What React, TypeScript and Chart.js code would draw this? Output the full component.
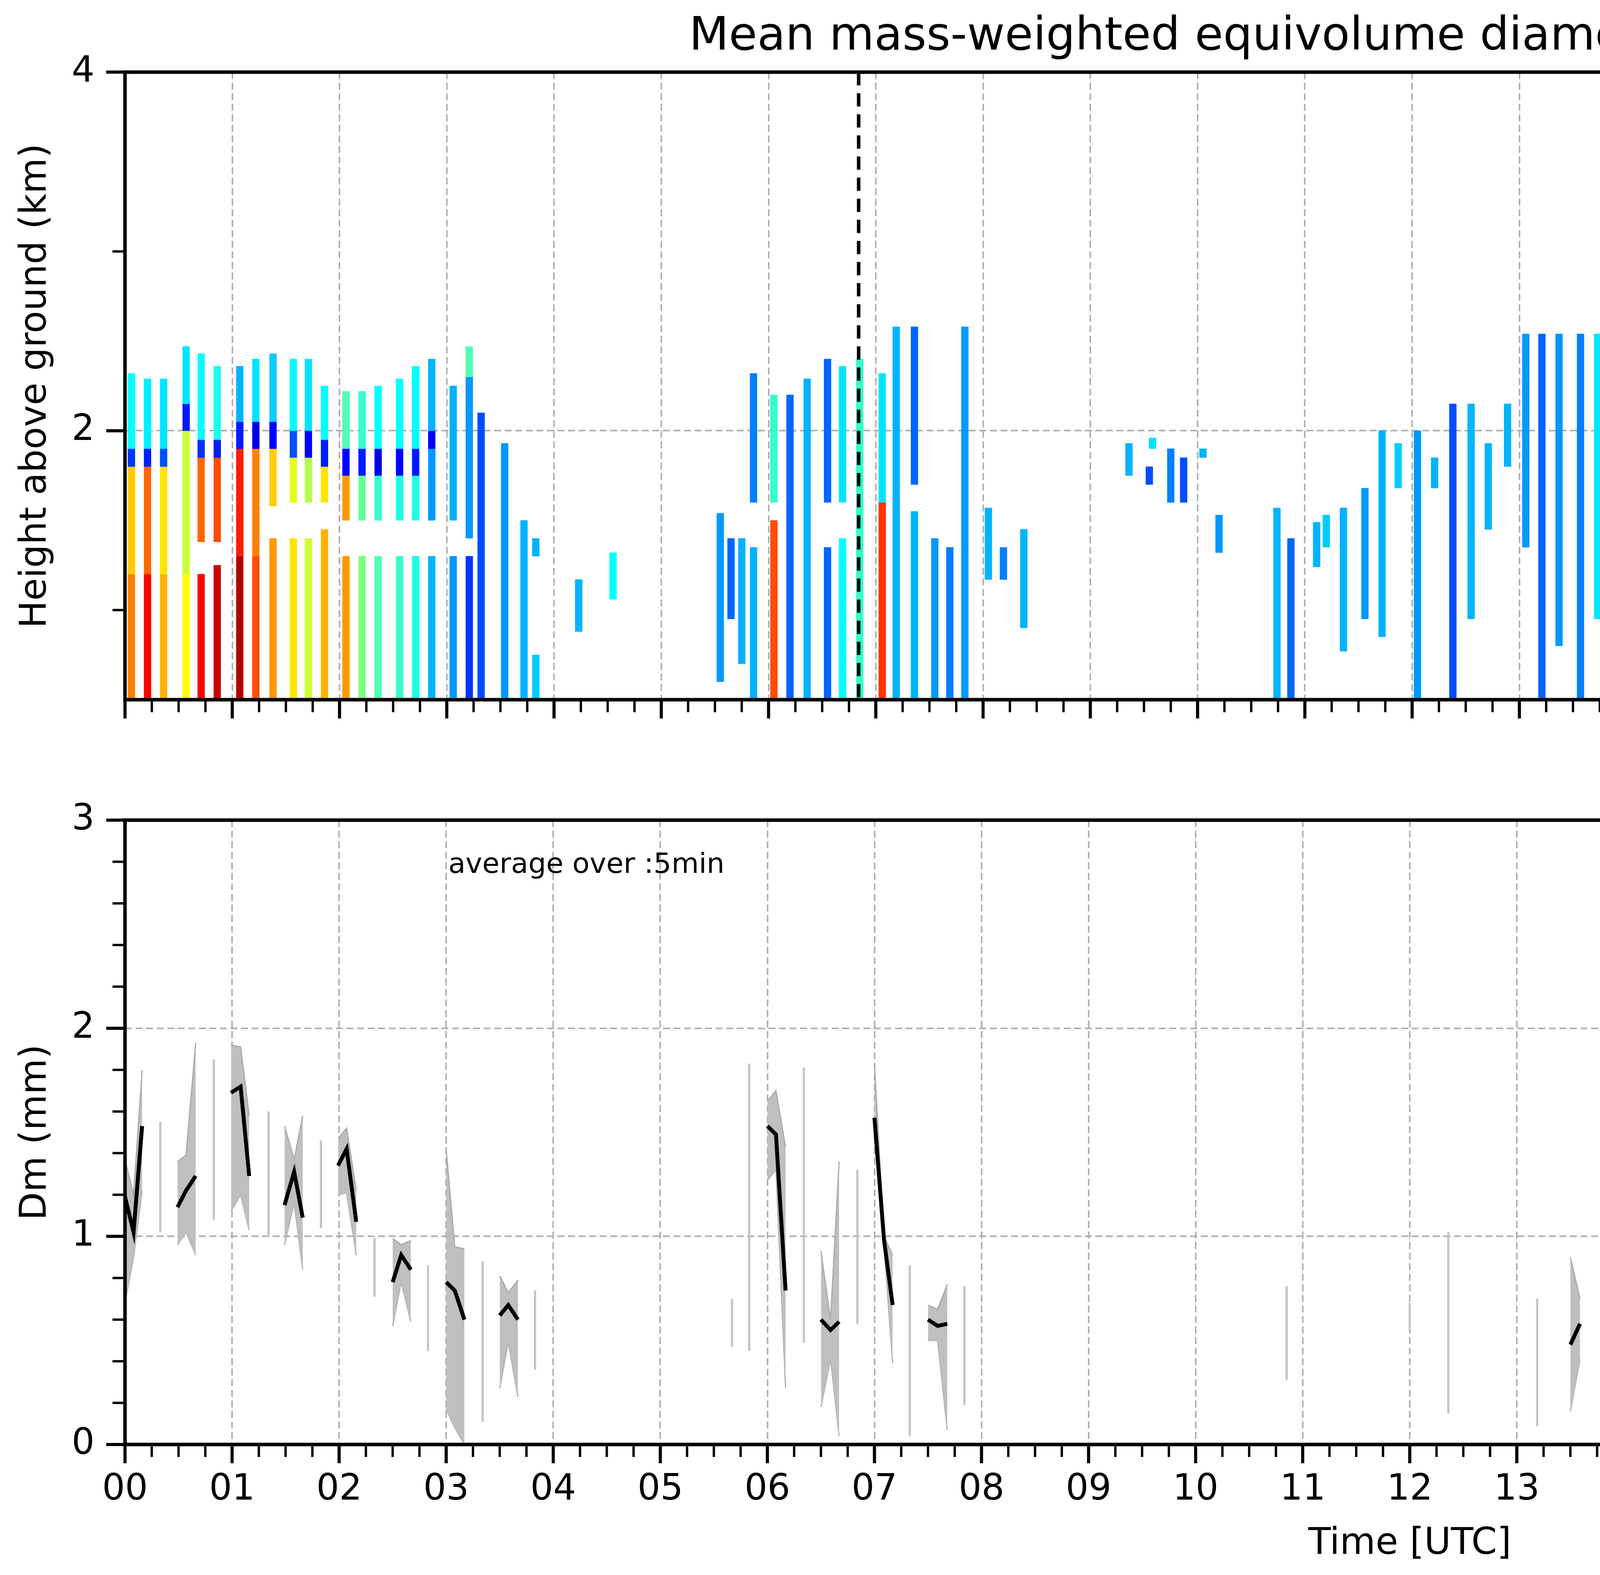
import { useEffect, useRef } from 'react';
import Chart from 'chart.js/auto';

const FONT = 'DejaVu Sans, sans-serif';
const GRID = '#b0b0b0';

const titleText = 'Mean mass-weighted equivolume diameter on 20251208';
const hourLabels = ['00', '01', '02', '03', '04', '05', '06', '07', '08', '09', '10', '11',
  '12', '13', '14', '15', '16', '17', '18', '19', '20', '21', '22', '23'];
const heightTicks = [1, 2, 3, 4];
const dmTicks = [0, 0.2, 0.4, 0.6, 0.8, 1, 1.2, 1.4, 1.6, 1.8, 2, 2.2, 2.4, 2.6, 2.8, 3];
const cbarTicks = [0, 0.4, 0.8, 1.2, 1.6, 2.0];

// radar profile cells: [hour, bottom km, top km, Dm mm]
const nightCells = [
  [0.06, 0.5, 1.2, 1.5], [0.06, 1.2, 1.8, 1.35], [0.06, 1.8, 1.9, 0.35], [0.06, 1.9, 2.32, 0.75],
  [0.21, 0.5, 1.2, 1.75], [0.21, 1.2, 1.8, 1.55], [0.21, 1.8, 1.9, 0.3], [0.21, 1.9, 2.29, 0.72],
  [0.36, 0.5, 1.2, 1.4], [0.36, 1.2, 1.8, 1.3], [0.36, 1.8, 1.9, 0.4], [0.36, 1.9, 2.29, 0.7],
  [0.57, 0.5, 1.2, 1.25], [0.57, 1.2, 2.0, 1.15], [0.57, 2.0, 2.15, 0.3], [0.57, 2.15, 2.47, 0.7],
  [0.71, 0.5, 1.2, 1.75], [0.71, 1.38, 1.85, 1.55], [0.71, 1.85, 1.95, 0.35], [0.71, 1.95, 2.43, 0.75],
  [0.86, 0.5, 1.25, 1.85], [0.86, 1.38, 1.85, 1.6], [0.86, 1.85, 1.95, 0.3], [0.86, 1.95, 2.36, 0.8],
  [1.07, 0.5, 1.3, 1.9], [1.07, 1.3, 1.9, 1.7], [1.07, 1.9, 2.05, 0.3], [1.07, 2.05, 2.36, 0.6],
  [1.22, 0.5, 1.3, 1.6], [1.22, 1.3, 1.9, 1.5], [1.22, 1.9, 2.05, 0.2], [1.22, 2.05, 2.4, 0.7],
  [1.38, 0.5, 1.4, 1.45], [1.38, 1.58, 1.9, 1.35], [1.38, 1.9, 2.05, 0.25], [1.38, 2.05, 2.43, 0.65],
  [1.57, 0.5, 1.4, 1.3], [1.57, 1.6, 1.85, 1.2], [1.57, 1.85, 2.0, 0.4], [1.57, 2.0, 2.4, 0.75],
  [1.71, 0.5, 1.4, 1.15], [1.71, 1.6, 1.85, 1.1], [1.71, 1.85, 2.0, 0.25], [1.71, 2.0, 2.4, 0.7],
  [1.86, 0.5, 1.45, 1.4], [1.86, 1.6, 1.8, 1.3], [1.86, 1.8, 1.95, 0.3], [1.86, 1.95, 2.25, 0.75],
  [2.06, 0.5, 1.3, 1.45], [2.06, 1.5, 1.75, 1.45], [2.06, 1.75, 1.9, 0.25], [2.06, 1.9, 2.22, 0.9],
  [2.21, 0.5, 1.3, 1.0], [2.21, 1.5, 1.75, 0.95], [2.21, 1.75, 1.9, 0.3], [2.21, 1.9, 2.22, 0.85],
  [2.36, 0.5, 1.3, 0.9], [2.36, 1.5, 1.75, 0.85], [2.36, 1.75, 1.9, 0.2], [2.36, 1.9, 2.25, 0.75],
  [2.56, 0.5, 1.3, 0.85], [2.56, 1.5, 1.75, 0.8], [2.56, 1.75, 1.9, 0.25], [2.56, 1.9, 2.29, 0.75],
  [2.71, 0.5, 1.3, 0.8], [2.71, 1.5, 1.75, 0.8], [2.71, 1.75, 1.9, 0.3], [2.71, 1.9, 2.36, 0.75],
  [2.86, 0.5, 1.3, 0.6], [2.86, 1.5, 1.9, 0.55], [2.86, 1.9, 2.0, 0.25], [2.86, 2.0, 2.4, 0.6],
];

const morningCells = [
  [3.06, 0.5, 1.3, 0.55], [3.06, 1.5, 2.25, 0.6], [3.21, 0.5, 1.3, 0.35], [3.21, 1.4, 2.3, 0.55],
  [3.21, 2.3, 2.47, 0.9], [3.32, 0.5, 2.1, 0.4], [3.54, 0.5, 1.93, 0.55], [3.72, 0.5, 1.5, 0.6],
  [3.83, 0.5, 0.75, 0.65], [3.83, 1.3, 1.4, 0.6], [4.23, 0.88, 1.17, 0.6], [4.55, 1.06, 1.32, 0.75],
  [5.55, 0.6, 1.54, 0.55], [5.65, 0.95, 1.4, 0.45], [5.75, 0.7, 1.4, 0.6], [5.86, 0.5, 1.35, 0.6],
  [5.86, 1.6, 2.32, 0.5], [6.05, 0.5, 1.5, 1.6], [6.05, 1.6, 2.2, 0.85], [6.2, 0.5, 2.2, 0.45],
  [6.36, 0.5, 2.29, 0.6], [6.55, 0.5, 1.35, 0.45], [6.55, 1.6, 2.4, 0.45], [6.69, 0.5, 1.4, 0.75],
  [6.69, 1.6, 2.36, 0.7], [6.85, 0.5, 2.4, 0.85], [7.06, 0.5, 1.6, 1.65], [7.06, 1.6, 2.32, 0.7],
  [7.19, 0.5, 2.58, 0.6], [7.36, 0.5, 1.55, 0.6], [7.36, 1.7, 2.58, 0.45], [7.55, 0.5, 1.4, 0.55],
  [7.69, 0.5, 1.35, 0.5], [7.83, 0.5, 2.58, 0.55], [8.05, 1.17, 1.57, 0.6], [8.19, 1.17, 1.35, 0.5],
  [8.38, 0.9, 1.45, 0.6],
];

const middayCells = [
  [9.36, 1.75, 1.93, 0.6], [9.55, 1.7, 1.8, 0.4], [9.58, 1.9, 1.96, 0.7], [9.75, 1.6, 1.9, 0.5],
  [9.87, 1.6, 1.85, 0.4], [10.05, 1.85, 1.9, 0.6], [10.2, 1.32, 1.53, 0.55], [10.74, 0.5, 1.57, 0.6],
  [10.87, 0.5, 1.4, 0.45], [11.11, 1.24, 1.49, 0.6], [11.2, 1.35, 1.53, 0.65], [11.36, 0.77, 1.57, 0.6],
  [11.56, 0.95, 1.68, 0.55], [11.72, 0.85, 2.0, 0.6], [11.87, 1.68, 1.93, 0.65], [12.05, 0.5, 2.0, 0.55],
  [12.21, 1.68, 1.85, 0.6], [12.38, 0.5, 2.15, 0.4], [12.55, 0.95, 2.15, 0.6], [12.71, 1.45, 1.93, 0.6],
  [12.89, 1.8, 2.15, 0.6], [13.06, 1.35, 2.54, 0.55], [13.21, 0.5, 2.54, 0.45], [13.37, 0.8, 2.54, 0.55],
  [13.57, 0.5, 2.54, 0.5], [13.73, 0.95, 2.54, 0.7], [13.87, 1.7, 2.54, 0.55],
];

const eveningCells = [
  [17.22, 2.1, 2.36, 0.75], [17.35, 2.1, 2.5, 0.55], [17.57, 1.32, 1.85, 0.5], [17.57, 2.0, 2.5, 0.6],
  [17.73, 1.32, 1.9, 0.55], [17.73, 1.1, 1.25, 0.4], [17.88, 1.5, 1.9, 0.65], [18.06, 1.55, 2.15, 0.65],
];

const markerTimes = [6.84, 15.35];
const noDataSpan = [23.88, 24];

// 5-min averages: [hour, mean, min, max]
const dmSegments = [
  [[0, 1.19, 0.68, 1.37], [0.08, 1.02, 0.9, 1.2], [0.16, 1.53, 1.22, 1.8]],
  [[0.49, 1.14, 0.96, 1.36], [0.57, 1.22, 1.02, 1.39], [0.66, 1.29, 0.91, 1.93]],
  [[0.99, 1.69, 1.12, 1.92], [1.08, 1.72, 1.2, 1.91], [1.16, 1.29, 1.03, 1.58]],
  [[1.49, 1.15, 0.96, 1.53], [1.58, 1.31, 1.16, 1.37], [1.66, 1.09, 0.84, 1.58]],
  [[1.99, 1.34, 1.2, 1.47], [2.07, 1.42, 1.21, 1.52], [2.16, 1.07, 0.91, 1.22]],
  [[2.5, 0.78, 0.57, 0.99], [2.58, 0.91, 0.78, 0.96], [2.67, 0.84, 0.59, 0.98]],
  [[3.0, 0.78, 0.17, 1.42], [3.08, 0.74, 0.08, 0.95], [3.17, 0.6, 0.0, 0.94]],
  [[3.5, 0.62, 0.27, 0.81], [3.58, 0.67, 0.49, 0.73], [3.67, 0.6, 0.23, 0.79]],
  [[6.0, 1.53, 1.27, 1.65], [6.08, 1.49, 1.32, 1.7], [6.17, 0.74, 0.27, 1.43]],
  [[6.5, 0.6, 0.18, 0.93], [6.59, 0.55, 0.41, 0.6], [6.67, 0.59, 0.04, 1.36]],
  [[7.0, 1.57, 1.56, 1.83], [7.09, 0.98, 0.95, 1.0], [7.17, 0.67, 0.39, 0.91]],
  [[7.5, 0.6, 0.5, 0.67], [7.59, 0.57, 0.5, 0.65], [7.68, 0.58, 0.07, 0.77]],
  [[13.5, 0.48, 0.16, 0.9], [13.59, 0.58, 0.41, 0.7]],
];

// single-sample ranges: [hour, min, max]
const dmSpikes = [
  [0.33, 1.02, 1.55], [0.83, 1.08, 1.85], [1.34, 1.0, 1.6], [1.83, 1.04, 1.46], [2.33, 0.71, 0.99],
  [2.83, 0.45, 0.86], [3.34, 0.11, 0.88], [3.83, 0.36, 0.74], [5.67, 0.47, 0.7], [5.83, 0.45, 1.83],
  [6.34, 0.49, 1.81], [6.84, 0.58, 1.32], [7.33, 0.04, 0.86], [7.84, 0.19, 0.76], [10.85, 0.31, 0.76],
  [12.0, 0.55, 0.68], [12.36, 0.15, 1.02], [13.19, 0.09, 0.7],
];

const noteText = 'average over :5min';

const quarterTicks = Array.from({ length: 97 }, (_, i) => i / 4);

function jet(v: number) {
  const x = Math.min(1, Math.max(0, v));
  const c = (d: number) => Math.round(255 * Math.min(1, Math.max(0, 1.5 - Math.abs(4 * x - d))));
  return `rgb(${c(3)},${c(2)},${c(1)})`;
}

const isInt = (v: number) => Math.abs(v - Math.round(v)) < 1e-6;

// frame, outward tick marks and a few overlays, drawn through the scales
const framePlugin = {
  id: 'frame',
  afterDatasetsDraw(chart: any, _args: any, opts: any) {
    const { ctx, chartArea: a, scales } = chart;
    ctx.save();
    if (opts.shade) {
      const x0 = scales.x.getPixelForValue(opts.shade[0]);
      const x1 = scales.x.getPixelForValue(opts.shade[1]);
      ctx.fillStyle = '#d9d9d9';
      ctx.fillRect(x0, a.top, x1 - x0, a.bottom - a.top);
    }
    if (opts.markers) {
      ctx.strokeStyle = '#000';
      ctx.lineWidth = 9;
      ctx.setLineDash([34, 20]);
      for (const t of opts.markers) {
        const x = scales.x.getPixelForValue(t);
        ctx.beginPath();
        ctx.moveTo(x, a.top);
        ctx.lineTo(x, a.bottom);
        ctx.stroke();
      }
      ctx.setLineDash([]);
    }
    if (opts.note) {
      ctx.fillStyle = '#000';
      ctx.font = `72px ${FONT}`;
      ctx.textBaseline = 'top';
      ctx.fillText(opts.note.text, scales.x.getPixelForValue(opts.note.x), scales.y.getPixelForValue(opts.note.y));
    }
    ctx.strokeStyle = '#000';
    ctx.lineWidth = opts.frameWidth || 9;
    ctx.strokeRect(a.left, a.top, a.right - a.left, a.bottom - a.top);
    if (opts.xTicks) {
      for (const v of opts.xTicks) {
        const x = scales.x.getPixelForValue(v);
        const major = isInt(v);
        ctx.lineWidth = major ? 8 : 6;
        ctx.beginPath();
        ctx.moveTo(x, a.bottom);
        ctx.lineTo(x, a.bottom + (major ? 48 : 32));
        ctx.stroke();
      }
    }
    if (opts.yTicks) {
      for (const v of opts.yTicks) {
        const y = scales.y.getPixelForValue(v);
        const major = opts.yMajor(v);
        ctx.lineWidth = major ? 8 : 6;
        ctx.beginPath();
        if (opts.right) {
          ctx.moveTo(a.right, y);
          ctx.lineTo(a.right + 24, y);
        } else {
          ctx.moveTo(a.left, y);
          ctx.lineTo(a.left - (major ? 48 : 32), y);
        }
        ctx.stroke();
      }
    }
    if (opts.sideLabel) {
      ctx.fillStyle = '#000';
      ctx.font = `72px ${FONT}`;
      ctx.textAlign = 'center';
      ctx.textBaseline = 'middle';
      ctx.translate(opts.sideLabel.x, (a.top + a.bottom) / 2);
      ctx.rotate(-Math.PI / 2);
      ctx.fillText(opts.sideLabel.text, 0, 0);
    }
    ctx.restore();
  },
};

const tickFont = { family: FONT, size: 92 };
const labelFont = { family: FONT, size: 94 };

function xAxis(showLabels: boolean, height: number) {
  return {
    type: 'linear',
    min: 0,
    max: 24,
    offset: false,
    afterBuildTicks: (s: any) => { s.ticks = quarterTicks.map((v) => ({ value: v })); },
    afterFit: (s: any) => { s.height = height; },
    ticks: {
      display: showLabels,
      autoSkip: false,
      maxRotation: 0,
      padding: 62,
      color: '#000',
      font: tickFont,
      callback: (v: number) => (isInt(v) && v < 24 ? hourLabels[v] : ''),
    },
    grid: {
      offset: false,
      drawTicks: false,
      lineWidth: 4,
      color: (c: any) => (c.tick && isInt(c.tick.value) ? GRID : 'rgba(0,0,0,0)'),
    },
    border: { display: false, dash: [18, 9] },
    title: showLabels
      ? { display: true, text: 'Time [UTC]', color: '#000', font: labelFont, padding: { top: 0, bottom: 22 } }
      : { display: false },
  };
}

function TopPanel() {
  const ref = useRef<HTMLCanvasElement>(null);
  useEffect(() => {
    if (!ref.current) return;
    const cells = [...nightCells, ...morningCells, ...middayCells, ...eveningCells];
    const chart = new Chart(ref.current, {
      type: 'bar',
      data: {
        datasets: [{
          data: cells.map(([t, y0, y1]) => ({ x: t, y: [y0, y1] })),
          backgroundColor: cells.map((c) => jet(c[3] / 2)),
          borderWidth: 0,
          barThickness: 18,
        }],
      },
      options: {
        animation: false,
        responsive: false,
        devicePixelRatio: 1,
        layout: { padding: { left: 0, right: 50, top: 0, bottom: 0 } },
        plugins: {
          legend: { display: false },
          tooltip: { enabled: false },
          title: {
            display: true,
            text: titleText,
            color: '#000',
            font: { family: FONT, size: 118, weight: 'normal' },
            padding: { top: 26, bottom: 17 },
          },
          frame: {
            xTicks: quarterTicks,
            yTicks: heightTicks,
            yMajor: (v: number) => v % 2 === 0,
            markers: markerTimes,
            shade: noDataSpan,
          },
        } as any,
        scales: {
          x: xAxis(false, 44),
          y: {
            min: 0.5,
            max: 4,
            afterBuildTicks: (s: any) => { s.ticks = heightTicks.map((v) => ({ value: v })); },
            afterFit: (s: any) => { s.width = 320; },
            ticks: { color: '#000', font: tickFont, padding: 78, callback: (v: number) => (v % 2 === 0 ? String(v) : '') },
            grid: { drawTicks: false, lineWidth: 4, color: (c: any) => (c.tick && c.tick.value === 2 ? GRID : 'rgba(0,0,0,0)') },
            border: { display: false, dash: [18, 9] },
            title: { display: true, text: 'Height above ground (km)', color: '#000', font: labelFont, padding: { top: 36, bottom: 0 } },
          },
        } as any,
      },
      plugins: [framePlugin],
    });
    return () => chart.destroy();
  }, []);
  return <canvas ref={ref} width={6960} height={1924} style={{ position: 'absolute', left: 0, top: 0 }} />;
}

function BottomPanel() {
  const ref = useRef<HTMLCanvasElement>(null);
  useEffect(() => {
    if (!ref.current) return;
    const series = (k: number) => dmSegments.flatMap((seg) => [
      ...seg.map((p) => ({ x: p[0], y: p[k] })),
      { x: seg[seg.length - 1][0] + 0.02, y: null },
    ]);
    const chart = new Chart(ref.current, {
      type: 'bar',
      data: {
        datasets: [
          { type: 'line', data: series(1), borderColor: '#000', borderWidth: 10, pointRadius: 0, spanGaps: false, order: 0 },
          { type: 'line', data: series(3), borderColor: '#a9a9a9', backgroundColor: '#bfbfbf', borderWidth: 3, pointRadius: 0, spanGaps: false, fill: '+1', order: 1 },
          { type: 'line', data: series(2), borderColor: '#a9a9a9', borderWidth: 3, pointRadius: 0, spanGaps: false, fill: false, order: 1 },
          { type: 'bar', data: dmSpikes.map(([t, lo, hi]) => ({ x: t, y: [lo, hi] })), backgroundColor: '#c4c4c4', borderWidth: 0, barThickness: 5, order: 2 },
        ],
      } as any,
      options: {
        animation: false,
        responsive: false,
        devicePixelRatio: 1,
        layout: { padding: { left: 0, right: 50, top: 199, bottom: 0 } },
        plugins: {
          legend: { display: false },
          tooltip: { enabled: false },
          frame: {
            xTicks: quarterTicks,
            yTicks: dmTicks,
            yMajor: (v: number) => isInt(v),
            note: { text: noteText, x: 3.02, y: 2.85 },
          },
        } as any,
        scales: {
          x: xAxis(true, 334),
          y: {
            min: 0,
            max: 3,
            afterBuildTicks: (s: any) => { s.ticks = dmTicks.map((v) => ({ value: v })); },
            afterFit: (s: any) => { s.width = 320; },
            ticks: { color: '#000', font: tickFont, padding: 78, autoSkip: false, callback: (v: number) => (isInt(v) ? String(Math.round(v)) : '') },
            grid: { drawTicks: false, lineWidth: 4, color: (c: any) => (c.tick && (c.tick.value === 1 || c.tick.value === 2) ? GRID : 'rgba(0,0,0,0)') },
            border: { display: false, dash: [18, 9] },
            title: { display: true, text: 'Dm (mm)', color: '#000', font: labelFont, padding: { top: 36, bottom: 0 } },
          },
        } as any,
      },
      plugins: [framePlugin],
    });
    return () => chart.destroy();
  }, []);
  return <canvas ref={ref} width={6960} height={2131} style={{ position: 'absolute', left: 0, top: 1900 }} />;
}

function ColorBar() {
  const ref = useRef<HTMLCanvasElement>(null);
  useEffect(() => {
    if (!ref.current) return;
    const chart = new Chart(ref.current, {
      type: 'bar',
      data: {
        labels: ['Dm'],
        datasets: [{
          data: [[0, 2]],
          borderWidth: 0,
          barPercentage: 1,
          categoryPercentage: 1,
          backgroundColor: (c: any) => {
            const { ctx, chartArea } = c.chart;
            if (!chartArea) return '#000';
            const g = ctx.createLinearGradient(0, chartArea.bottom, 0, chartArea.top);
            for (let i = 0; i <= 20; i++) g.addColorStop(i / 20, jet(i / 20));
            return g;
          },
        }],
      } as any,
      options: {
        animation: false,
        responsive: false,
        devicePixelRatio: 1,
        layout: { padding: { left: 30, right: 0, top: 185, bottom: 90 } },
        plugins: {
          legend: { display: false },
          tooltip: { enabled: false },
          frame: {
            frameWidth: 6,
            yTicks: cbarTicks,
            yMajor: () => true,
            right: true,
            sideLabel: { text: 'Dm (mm)', x: 385 },
          },
        } as any,
        scales: {
          x: { display: false },
          y: {
            position: 'right',
            min: 0,
            max: 2,
            afterBuildTicks: (s: any) => { s.ticks = cbarTicks.map((v) => ({ value: v })); },
            afterFit: (s: any) => { s.width = 337; },
            ticks: { color: '#000', font: { family: FONT, size: 70 }, padding: 51, callback: (v: number) => v.toFixed(1) },
            grid: { display: false, drawTicks: false },
            border: { display: false },
          },
        } as any,
      },
      plugins: [framePlugin],
    });
    return () => chart.destroy();
  }, []);
  return <canvas ref={ref} width={482} height={1880} style={{ position: 'absolute', left: 6960, top: 0 }} />;
}

export default function App() {
  return (
    <div style={{ position: 'absolute', left: 0, top: 0, width: 7442, height: 4031, background: '#fff' }}>
      <TopPanel />
      <BottomPanel />
      <ColorBar />
    </div>
  );
}
